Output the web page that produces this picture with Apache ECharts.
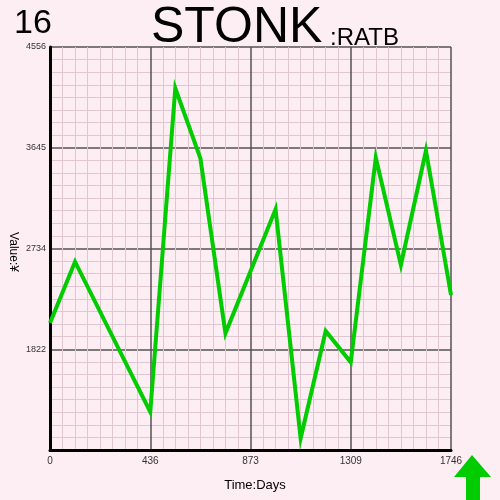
<!DOCTYPE html>
<html><head><meta charset="utf-8">
<script src="https://cdn.jsdelivr.net/npm/echarts@6/dist/echarts.min.js"></script>
<style>html,body{margin:0;padding:0;background:#fdeef4;}#c{width:500px;height:500px;}</style>
</head><body><div id="c"></div>
<script>
const days = [0, 109, 436.5, 545.6, 654.8, 763.9, 982.1, 1091.3, 1200.4, 1309.5, 1418.6, 1527.8, 1636.9, 1746];
const values = [2060, 2614, 1255, 4182, 3549, 1967, 3088, 1017, 1987, 1704, 3555, 2584, 3618, 2313];
const xTicks = [0, 436.5, 873, 1309.5, 1746];
const yTicks = [911.2, 1822.4, 2733.6, 3644.8, 4556];
const titleMain = 'STONK';
const titleSub = ':RATB';
const cornerNum = '16';

const chart = echarts.init(document.getElementById('c'));
const font = '"Liberation Sans", Arial, sans-serif';
chart.setOption({
  backgroundColor: '#fdeef4',
  animation: false,
  grid: {left: 50, right: 49, top: 47, bottom: 50},
  xAxis: {
    type: 'value', min: xTicks[0], max: xTicks[xTicks.length-1], interval: xTicks[1]-xTicks[0],
    axisLine: {show: true, lineStyle: {color: '#000', width: 3}},
    axisTick: {show: false},
    axisLabel: {fontSize: 10, color: '#333', fontFamily: font, margin: 6,
      formatter: v => String(Math.floor(v + 1e-6))},
    splitLine: {show: true, lineStyle: {color: '#555055', width: 1.5}},
    minorTick: {show: false, splitNumber: 8},
    minorSplitLine: {show: true, lineStyle: {color: '#dfc6d0', width: 1}}
  },
  yAxis: {
    type: 'value', min: yTicks[0], max: yTicks[yTicks.length-1], interval: yTicks[1]-yTicks[0],
    axisLine: {show: true, lineStyle: {color: '#000', width: 3}},
    axisTick: {show: false},
    axisLabel: {fontSize: 9, color: '#333', fontFamily: font, margin: 4, showMinLabel: false,
      formatter: v => String(Math.round(v))},
    splitLine: {show: true, lineStyle: {color: '#555055', width: 1.5}},
    minorTick: {show: false, splitNumber: 8},
    minorSplitLine: {show: true, lineStyle: {color: '#dfc6d0', width: 1}}
  },
  series: [{
    type: 'line', data: days.map((d, i) => [d, values[i]]),
    showSymbol: false, symbol: 'none',
    lineStyle: {color: '#00cc00', width: 4, join: 'miter'}
  }],
  graphic: [
    {type: 'text', left: 14, top: 7, style: {text: cornerNum, font: '34px ' + font, fill: '#000'}},
    {type: 'text', left: 151, top: 3, style: {text: titleMain, font: '50px ' + font, fill: '#000'}},
    {type: 'text', left: 330, top: 26, style: {text: titleSub, font: '24px ' + font, fill: '#000'}},
    {type: 'text', x: 255, y: 485, style: {text: 'Time:Days', font: '13px ' + font, fill: '#000', align: 'center', verticalAlign: 'middle'}},
    {type: 'text', x: 13, y: 252, rotation: -Math.PI/2, style: {text: 'Value:¥', font: '12px ' + font, fill: '#000', align: 'center', verticalAlign: 'middle'}},
    {type: 'polygon', shape: {points: [[472, 455], [491, 477], [480, 477], [480, 500], [466, 500], [466, 477], [454, 477]]}, style: {fill: '#00cc00'}}
  ]
});
</script></body></html>
